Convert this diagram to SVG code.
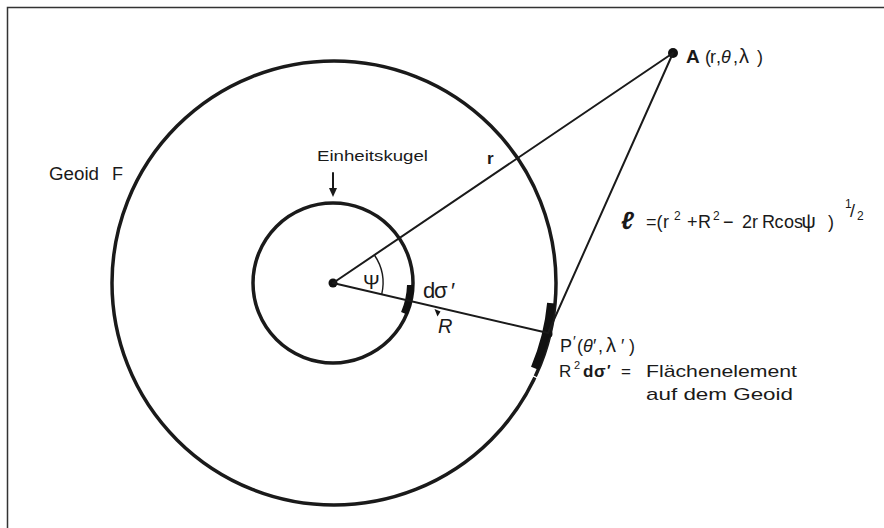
<svg xmlns="http://www.w3.org/2000/svg" width="884" height="528" viewBox="0 0 884 528">
<style>
.t{font-family:"Liberation Sans",Arial,sans-serif;fill:#1a1a1a}
.ln{stroke:#1a1a1a;stroke-width:2;fill:none;stroke-linecap:round}
.ring{stroke:#1a1a1a;stroke-width:3.5;fill:none}
.band{stroke:#111;fill:none;stroke-linecap:butt}
</style>
<rect width="884" height="528" fill="#fff"/>
<g id="frame">
<path d="M7.5 528 V7.5 H884" stroke="#333" stroke-width="1.5" fill="none"/>
</g>
<g id="geoid">
<circle cx="334" cy="283" r="222" class="ring"/>
<path class="band" stroke-width="8" d="M551.1 303.1 A218 218 0 0 1 534.7 368.2"/>
<path d="M532.4 375.6 L538.4 378.5" stroke="#fff" stroke-width="1.3"/>
<text class="t" font-size="18"><tspan x="49" y="180" textLength="50" lengthAdjust="spacingAndGlyphs">Geoid</tspan><tspan x="112" y="180">F</tspan></text>
</g>
<g id="unit-sphere">
<circle cx="333" cy="283" r="80" class="ring"/>
<path class="band" stroke-width="7" d="M410.5 285 A77.5 77.5 0 0 1 404.3 313.3"/>
<text class="t" x="317" y="161" font-size="15" textLength="111" lengthAdjust="spacingAndGlyphs">Einheitskugel</text>
<line x1="333" y1="173" x2="333" y2="190" class="ln"/>
<polygon points="329,188 337,188 333,197" fill="#1a1a1a"/>
<text class="t" x="423 434 451" y="298" font-size="22">dσ′</text>
</g>
<g id="center">
<circle cx="333" cy="283" r="4.5" fill="#111"/>
</g>
<g id="point-A">
<circle cx="673" cy="53" r="5" fill="#111"/>
<text class="t" y="63"><tspan x="686" font-size="19" font-weight="bold">A</tspan><tspan x="705 710 716 721 733 739 757" font-size="18">(r,<tspan font-style="italic">θ</tspan>,<tspan font-size="20">λ</tspan>)</tspan></text>
</g>
<g id="point-P">
<circle cx="549" cy="334" r="3.5" fill="#111"/>
<text class="t" font-size="18"><tspan x="560" y="352">P</tspan><tspan x="573" y="346" font-size="15">′</tspan><tspan x="577 583 593 598 606 621 629" y="352">(<tspan font-style="italic">θ</tspan>′,<tspan font-size="20">λ</tspan>′)</tspan></text>
<text class="t" font-size="17"><tspan x="559" y="377">R</tspan><tspan x="574" y="369" font-size="11">2</tspan><tspan x="583 594" y="377" font-weight="bold">dσ</tspan><tspan x="607" y="375" font-size="15" font-weight="bold">′</tspan><tspan x="621" y="377">=</tspan><tspan x="646" y="377" textLength="151" lengthAdjust="spacingAndGlyphs">Flächenelement</tspan><tspan x="646" y="400" textLength="147" lengthAdjust="spacingAndGlyphs">auf dem Geoid</tspan></text>
</g>
<g id="connectors">
<line x1="333" y1="283" x2="673" y2="53" class="ln"/>
<line x1="673" y1="53" x2="548" y2="333" class="ln"/>
<line x1="333" y1="283" x2="548" y2="333" class="ln"/>
<path d="M374.4 255 A50 50 0 0 1 381.7 294.3" stroke="#1a1a1a" stroke-width="1.4" fill="none"/>
<polygon points="434.5,309 440.5,311.5 437.5,316.5" fill="#111"/>
</g>
<g id="labels">
<text class="t" x="363" y="289" font-size="20">Ψ</text>
<text class="t" x="438" y="333" font-size="20" font-style="italic">R</text>
<text class="t" x="487" y="164" font-size="17" font-weight="bold">r</text>
<text class="t" font-size="18"><tspan x="621" y="229" font-size="25" font-weight="bold" font-style="italic">ℓ</tspan><tspan x="646 656.5 663" y="228">=(r</tspan><tspan x="674" y="220" font-size="12">2</tspan><tspan x="687 698" y="228">+R</tspan><tspan x="713" y="220" font-size="12">2</tspan><tspan x="723 742 752 762 774.5 784 794 801.5 828" y="228">−2rRcos<tspan font-size="20">ψ</tspan>)</tspan><tspan x="845" y="208" font-size="12">1</tspan><tspan x="850" y="217" font-size="18">/</tspan><tspan x="857" y="220" font-size="12">2</tspan></text>
</g>
</svg>
